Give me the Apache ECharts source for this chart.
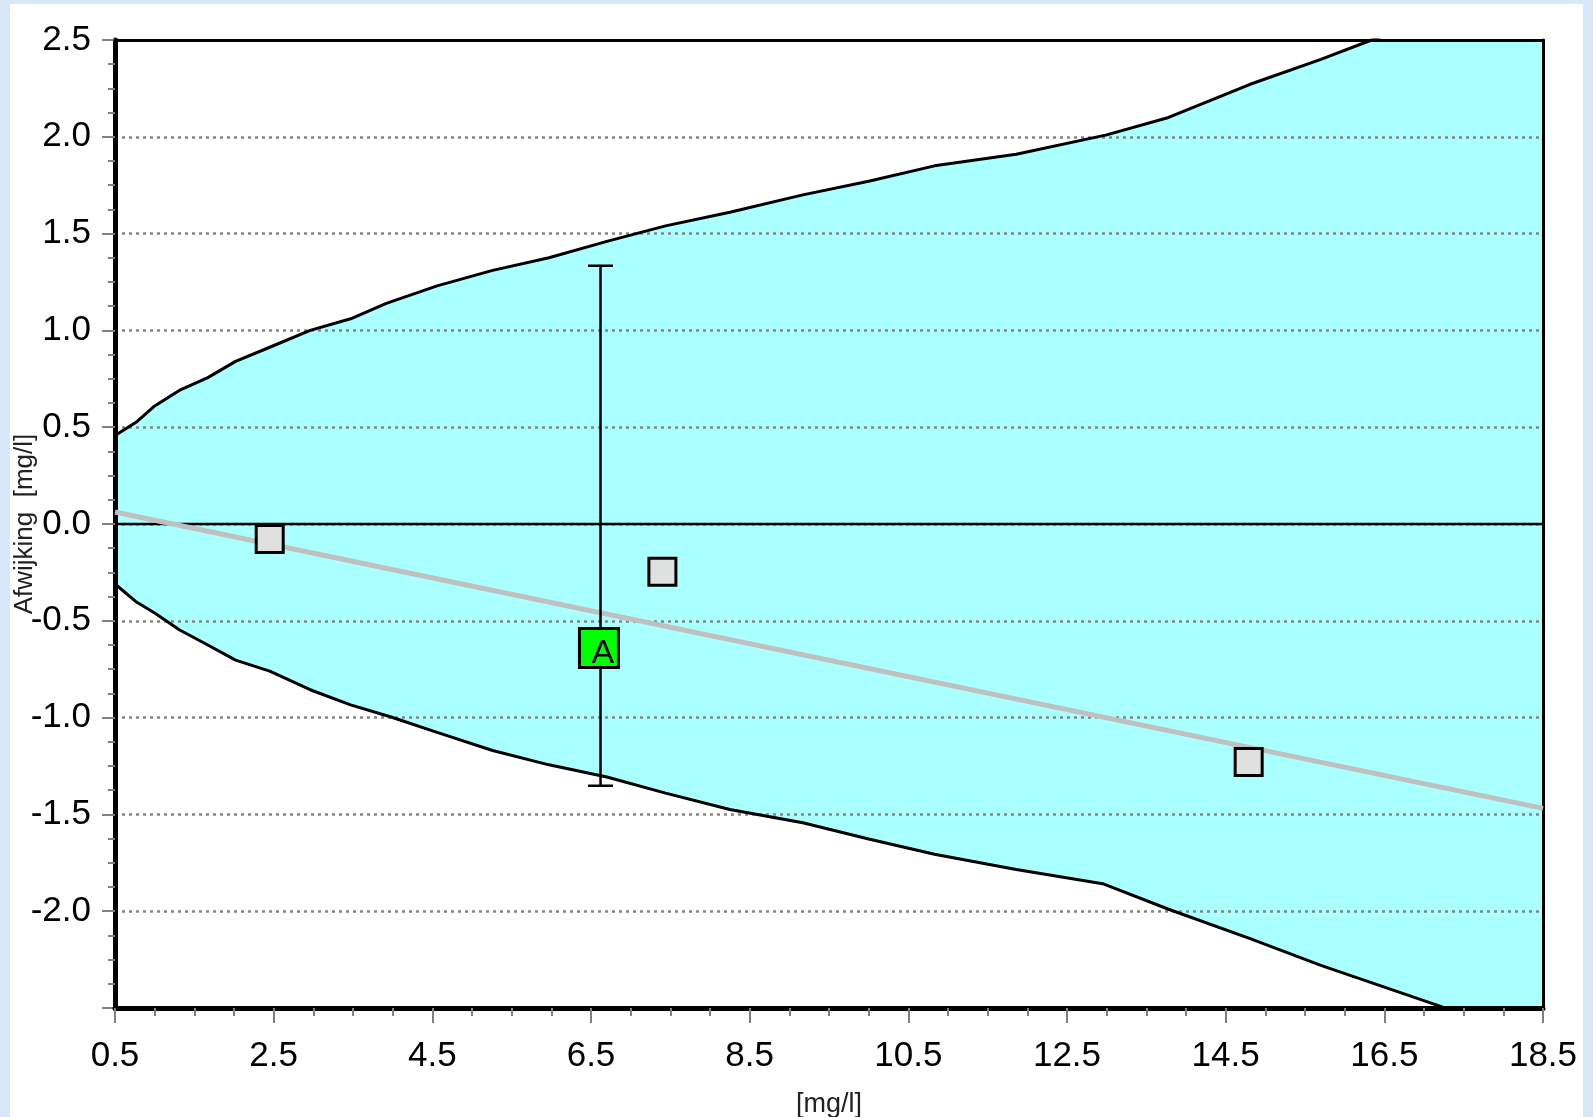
<!DOCTYPE html>
<html>
<head>
<meta charset="utf-8">
<script src="https://cdn.jsdelivr.net/npm/echarts@6/dist/echarts.min.js"></script>
<style>
  html, body { margin:0; padding:0; width:1593px; height:1117px; overflow:hidden; background:#d9e8f8; }
  #panel { position:absolute; left:10px; top:4px; width:1573px; height:1113px; background:#ffffff; }
  #chart { position:absolute; left:0; top:0; width:1593px; height:1117px; }
</style>
</head>
<body>
<div id="panel"></div>
<div id="chart"></div>
<script>
// ---- data ----
const xMin = 0.5, xMax = 18.5, xStep = 2;
const yMin = -2.5, yMax = 2.5, yStep = 0.5;

const bandUpper = [
  [0.5, 0.457], [0.78, 0.53], [1.0, 0.61], [1.31, 0.69], [1.67, 0.756], [2.02, 0.84],
  [2.45, 0.913], [2.96, 1.0], [3.47, 1.06], [3.92, 1.14], [4.56, 1.23], [5.26, 1.31],
  [5.97, 1.375], [6.7, 1.46], [7.44, 1.54], [8.25, 1.61], [9.17, 1.70], [10.0, 1.77],
  [10.83, 1.85], [11.86, 1.91], [13.0, 2.01], [13.78, 2.10], [14.8, 2.27], [15.7, 2.40],
  [16.34, 2.50], [18.5, 2.82]
];
const bandLower = [
  [0.5, -0.31], [0.76, -0.40], [1.0, -0.46], [1.31, -0.546], [1.67, -0.625], [2.02, -0.703],
  [2.45, -0.76], [2.96, -0.856], [3.47, -0.934], [3.98, -0.997], [4.56, -1.076], [5.26, -1.17],
  [5.97, -1.244], [6.7, -1.307], [7.44, -1.39], [8.25, -1.475], [9.17, -1.543], [10.0, -1.627],
  [10.83, -1.706], [11.86, -1.785], [12.95, -1.858], [13.78, -1.99], [14.8, -2.14], [15.7, -2.28],
  [17.2, -2.49], [18.5, -2.69]
];
const zeroLine = [[0.5, 0], [18.5, 0]];
const trendLine = [[0.5, 0.062], [18.5, -1.469]];
const otherPoints = [[2.45, -0.077], [7.40, -0.246], [14.79, -1.229]];
const ownPoint = [[6.60, -0.64]];
const ownLabel = 'A';
const errorBar = [[6.62, -1.352, 1.334]];

const chart = echarts.init(document.getElementById('chart'));
const grid = { left: 115, top: 40, right: 50, bottom: 109, containLabel: false, outerBoundsMode: 'none' };
const tickGray = '#808080';

const option = {
  backgroundColor: 'transparent',
  animation: false,
  grid: grid,
  xAxis: [{
    type: 'value', min: xMin, max: xMax, interval: xStep,
    name: '[mg/l]', nameLocation: 'middle', nameGap: 83, nameMoveOverlap: false,
    nameTextStyle: { fontFamily: 'Liberation Sans', fontSize: 27, color: '#222' },
    axisLine: { show: true, onZero: false, lineStyle: { color: '#000', width: 5 } },
    axisTick: { show: true, length: 15, lineStyle: { color: tickGray, width: 2 } },
    minorTick: { show: true, splitNumber: 4, length: 8, lineStyle: { color: tickGray, width: 2 } },
    splitLine: { show: false },
    axisLabel: { fontFamily: 'Liberation Sans', fontSize: 35, color: '#000', margin: 31,
      formatter: v => v.toFixed(1) },
    z: 6
  }, {
    type: 'value', position: 'top', min: xMin, max: xMax, interval: xStep,
    axisLine: { show: true, onZero: false, lineStyle: { color: '#000', width: 3 } },
    axisTick: { show: false }, axisLabel: { show: false }, splitLine: { show: false },
    z: 6
  }],
  yAxis: [{
    type: 'value', min: yMin, max: yMax, interval: yStep,
    name: 'Afwijking  [mg/l]', nameLocation: 'middle', nameGap: 77, nameMoveOverlap: false,
    nameTextStyle: { fontFamily: 'Liberation Sans', fontSize: 26, color: '#222' },
    axisLine: { show: true, onZero: false, lineStyle: { color: '#000', width: 5 } },
    axisTick: { show: true, length: 13, lineStyle: { color: tickGray, width: 2 } },
    minorTick: { show: true, splitNumber: 4, length: 7, lineStyle: { color: tickGray, width: 2 } },
    splitLine: { show: true, lineStyle: { color: '#858585', width: 2.5, type: [3, 4] } },
    axisLabel: { fontFamily: 'Liberation Sans', fontSize: 35, color: '#000', margin: 24,
      formatter: v => (Math.abs(v - yMin) < 1e-9 ? '' : v.toFixed(1)) },
    z: 3
  }, {
    type: 'value', position: 'right', min: yMin, max: yMax, interval: yStep,
    axisLine: { show: true, onZero: false, lineStyle: { color: '#000', width: 3 } },
    axisTick: { show: false }, axisLabel: { show: false }, splitLine: { show: false },
    z: 6
  }],
  series: [
    {
      type: 'custom', name: 'band', z: 1, clip: true, silent: true,
      data: [[xMin, 0]],
      renderItem: function (params, api) {
        const pts = bandUpper.map(p => api.coord(p))
          .concat(bandLower.slice().reverse().map(p => api.coord(p)));
        return { type: 'polygon', shape: { points: pts }, style: { fill: '#aaffff', stroke: null } };
      }
    },
    {
      type: 'line', name: 'upper', data: bandUpper, symbol: 'none', z: 5,
      lineStyle: { color: '#000', width: 3 }
    },
    {
      type: 'line', name: 'lower', data: bandLower, symbol: 'none', z: 5,
      lineStyle: { color: '#000', width: 3 }
    },
    {
      type: 'line', name: 'zero', data: zeroLine, symbol: 'none', z: 5,
      lineStyle: { color: '#000', width: 2.5 }
    },
    {
      type: 'line', name: 'trend', data: trendLine, symbol: 'none', z: 6,
      lineStyle: { color: '#c0c0c0', width: 5 }
    },
    {
      type: 'custom', name: 'err', z: 7, clip: true,
      data: errorBar,
      renderItem: function (params, api) {
        const x = api.value(0);
        const lo = api.coord([x, api.value(1)]);
        const hi = api.coord([x, api.value(2)]);
        const hw = 12.5;
        const st = { stroke: '#000', lineWidth: 2.5 };
        return {
          type: 'group',
          children: [
            { type: 'line', shape: { x1: hi[0], y1: hi[1], x2: lo[0], y2: lo[1] }, style: st },
            { type: 'line', shape: { x1: hi[0] - hw, y1: hi[1], x2: hi[0] + hw, y2: hi[1] }, style: st },
            { type: 'line', shape: { x1: lo[0] - hw, y1: lo[1], x2: lo[0] + hw, y2: lo[1] }, style: st }
          ]
        };
      }
    },
    {
      type: 'scatter', name: 'others', data: otherPoints, symbol: 'rect', symbolSize: 27, z: 8,
      itemStyle: { color: '#e0e0e0', borderColor: '#000', borderWidth: 3, opacity: 1 }
    },
    {
      type: 'scatter', name: 'own', data: ownPoint, symbol: 'rect', symbolSize: 39, z: 9,
      itemStyle: { color: '#00ff00', borderColor: '#000', borderWidth: 3, opacity: 1 },
      label: { show: true, position: 'inside', formatter: ownLabel, offset: [4, 6],
        fontFamily: 'Liberation Sans', fontSize: 34, color: '#000' }
    }
  ]
};
chart.setOption(option);
</script>
</body>
</html>
